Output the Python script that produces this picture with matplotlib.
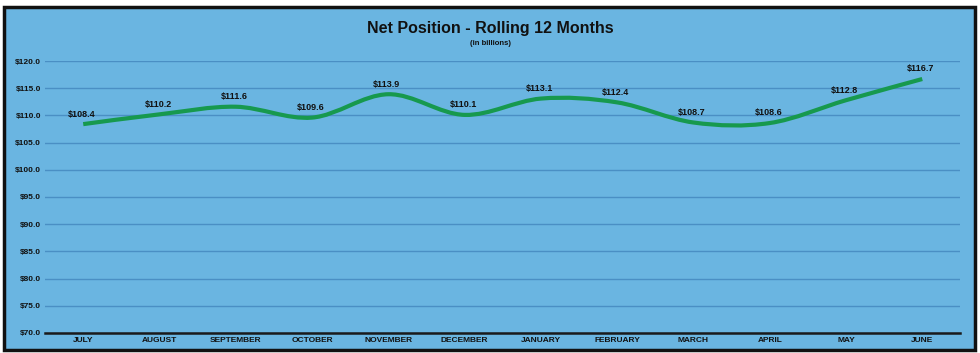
import matplotlib.pyplot as plt
from matplotlib.path import Path
from matplotlib.patches import PathPatch, Rectangle

# Monthly net position, rolling 12 months (in billions)
months = ['JULY', 'AUGUST', 'SEPTEMBER', 'OCTOBER', 'NOVEMBER', 'DECEMBER',
          'JANUARY', 'FEBRUARY', 'MARCH', 'APRIL', 'MAY', 'JUNE']
net_position = [108.4, 110.2, 111.6, 109.6, 113.9, 110.1,
                113.1, 112.4, 108.7, 108.6, 112.8, 116.7]
y_ticks = [70, 75, 80, 85, 90, 95, 100, 105, 110, 115, 120]

bg = '#6ab5e1'
plt.rcParams['font.family'] = ['Liberation Sans', 'DejaVu Sans']

fig = plt.figure(figsize=(9.8, 3.53), dpi=100)
fig.patch.set_facecolor('white')
fig.patches.append(Rectangle((4 / 980, 3 / 353), 971 / 980, 343 / 353,
                             transform=fig.transFigure, facecolor=bg,
                             edgecolor='#111111', linewidth=2.5, zorder=-1))

ax = fig.add_axes([0.046, 0.057, 0.934, 0.770])
ax.set_facecolor('none')

x = list(range(len(months)))

# smooth line like Excel: Bezier segments through the points
verts = [(x[0], net_position[0])]
codes = [Path.MOVETO]
n = len(x)
for i in range(n - 1):
    p0 = (x[max(i - 1, 0)], net_position[max(i - 1, 0)])
    p1 = (x[i], net_position[i])
    p2 = (x[i + 1], net_position[i + 1])
    p3 = (x[min(i + 2, n - 1)], net_position[min(i + 2, n - 1)])
    c1 = (p1[0] + (p2[0] - p0[0]) / 6, p1[1] + (p2[1] - p0[1]) / 6)
    c2 = (p2[0] - (p3[0] - p1[0]) / 6, p2[1] - (p3[1] - p1[1]) / 6)
    verts += [c1, c2, p2]
    codes += [Path.CURVE4] * 3
ax.add_patch(PathPatch(Path(verts, codes), facecolor='none',
                       edgecolor='#17994e', linewidth=3, capstyle='butt', zorder=3))

for xi, v in zip(x, net_position):
    ax.annotate(f'${v:.1f}', (xi, v), xytext=(-1, 4), textcoords='offset points',
                ha='center', va='bottom', fontsize=6.5, fontweight='bold', color='#111111')

ax.set_xlim(-0.5, n - 0.5)
ax.set_ylim(70, 120)
ax.set_yticks(y_ticks)
ax.set_yticklabels([f'${t:.1f}' for t in y_ticks], fontsize=6, fontweight='bold')
ax.set_xticks(x)
ax.set_xticklabels(months, fontsize=6, fontweight='bold')
ax.tick_params(axis='both', length=0, pad=3, colors='#111111')
ax.grid(axis='y', color='#4a8fc4', linewidth=1)
ax.set_axisbelow(True)
for s in ['top', 'right', 'left']:
    ax.spines[s].set_visible(False)
ax.spines['bottom'].set_color('#1a1a1a')
ax.spines['bottom'].set_linewidth(1.8)

fig.text(0.5, 0.92, 'Net Position - Rolling 12 Months', ha='center', va='center',
         fontsize=11.5, fontweight='bold', color='#111111')
fig.text(0.5, 0.878, '(in billions)', ha='center', va='center',
         fontsize=5.5, fontweight='bold', color='#111111')

fig.savefig('out.png', dpi=100, facecolor=fig.get_facecolor())
